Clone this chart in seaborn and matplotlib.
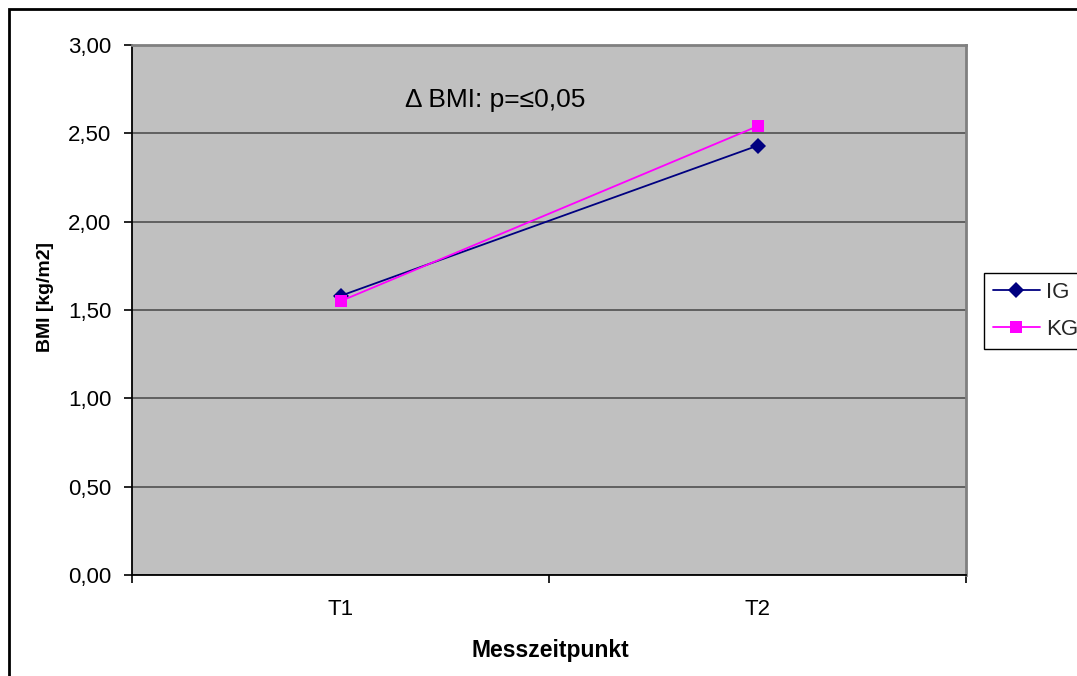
import matplotlib
matplotlib.use("Agg")
import matplotlib.pyplot as plt
from matplotlib.patches import Rectangle
from matplotlib.lines import Line2D
from matplotlib.ticker import FixedLocator, FuncFormatter
import seaborn as sns
import pandas as pd

# Messzeitpunkte und mittlere BMI-Veränderung je Gruppe
zeitpunkte = ["T1", "T2"]
ig_werte = [1.58, 2.43]
kg_werte = [1.55, 2.54]
gruppen = ["IG", "KG"]
farben = {"IG": "#000080", "KG": "#FF00FF"}
marker = {"IG": "D", "KG": "s"}
y_ticks = [0.0, 0.5, 1.0, 1.5, 2.0, 2.5, 3.0]

df = pd.DataFrame({
    "Messzeitpunkt": zeitpunkte * 2,
    "BMI": ig_werte + kg_werte,
    "Gruppe": ["IG"] * len(zeitpunkte) + ["KG"] * len(zeitpunkte),
})

sns.set_theme(style="white")
plt.rcParams["font.family"] = ["Liberation Sans", "DejaVu Sans"]

fig = plt.figure(figsize=(10.77, 6.76), dpi=100)
ax = fig.add_axes([132 / 1077, 101 / 676, 834 / 1077, 530 / 676])
ax.set_facecolor("#C0C0C0")

sns.lineplot(data=df, x="Messzeitpunkt", y="BMI", hue="Gruppe", style="Gruppe",
             palette=farben, markers=marker, dashes=False, markersize=8,
             markeredgewidth=0, linewidth=1.3, legend=False, ax=ax, zorder=3)

ax.set_xlim(-0.5, len(zeitpunkte) - 0.5)
ax.set_ylim(y_ticks[0], y_ticks[-1])

# horizontale Hilfslinien
ax.yaxis.set_major_locator(FixedLocator(y_ticks))
ax.yaxis.set_major_formatter(FuncFormatter(lambda v, _: f"{v:.2f}".replace(".", ",")))
ax.grid(axis="y", color="#505050", linewidth=1.2)
ax.grid(axis="x", visible=False)
ax.set_axisbelow(True)

# Kategorien mittig, Teilstriche zwischen den Kategorien
ax.set_xticks(range(len(zeitpunkte)))
ax.set_xticklabels(zeitpunkte)
ax.set_xticks([i - 0.5 for i in range(len(zeitpunkte) + 1)], minor=True)
ax.tick_params(axis="x", which="major", length=0, pad=17, labelsize=16, colors="black")
ax.tick_params(axis="x", which="minor", length=6, width=1.2, color="black", direction="out", bottom=True)
ax.tick_params(axis="y", which="major", length=6, width=1.2, color="black", direction="out",
               left=True, pad=9, labelsize=16, labelcolor="black")

for side in ["left", "bottom"]:
    ax.spines[side].set_color("black")
    ax.spines[side].set_linewidth(1.3)
for side in ["top", "right"]:
    ax.spines[side].set_color("#808080")
    ax.spines[side].set_linewidth(2)

ax.set_xlabel("Messzeitpunkt", fontsize=16.5, fontweight="bold", color="black", va="center")
ax.xaxis.set_label_coords(0.502, (575 - 650) / 530)
ax.set_ylabel("BMI [kg/m2]", fontsize=14, fontweight="bold", color="black", va="center")
ax.yaxis.set_label_coords((45 - 132) / 834, (575 - 297) / 530)

ax.text(0.327, 0.896, "Δ BMI: p=≤0,05", transform=ax.transAxes, fontsize=19,
        ha="left", va="center", color="black")

# Legende rechts neben der Zeichenfläche
handles = [Line2D([], [], color=farben[g], marker=marker[g], markersize=8,
                  markeredgewidth=0, linewidth=1.3) for g in gruppen]
leg = fig.legend(handles, gruppen, loc="upper left",
                 bbox_to_anchor=(984 / 1077, 1 - 273 / 676), fontsize=16,
                 frameon=True, fancybox=False, edgecolor="black", framealpha=1,
                 handlelength=2.1, handletextpad=0.3, borderpad=0.4, labelspacing=0.73,
                 borderaxespad=0)
leg.get_frame().set_linewidth(1.0)

# Rahmen um die gesamte Grafik
fig.patches.append(Rectangle((9 / 1077, -0.05), 1.2, 1 - 9 / 676 + 0.05,
                             transform=fig.transFigure, fill=False,
                             edgecolor="black", linewidth=2))

fig.savefig("out.png", dpi=100, facecolor="white")
